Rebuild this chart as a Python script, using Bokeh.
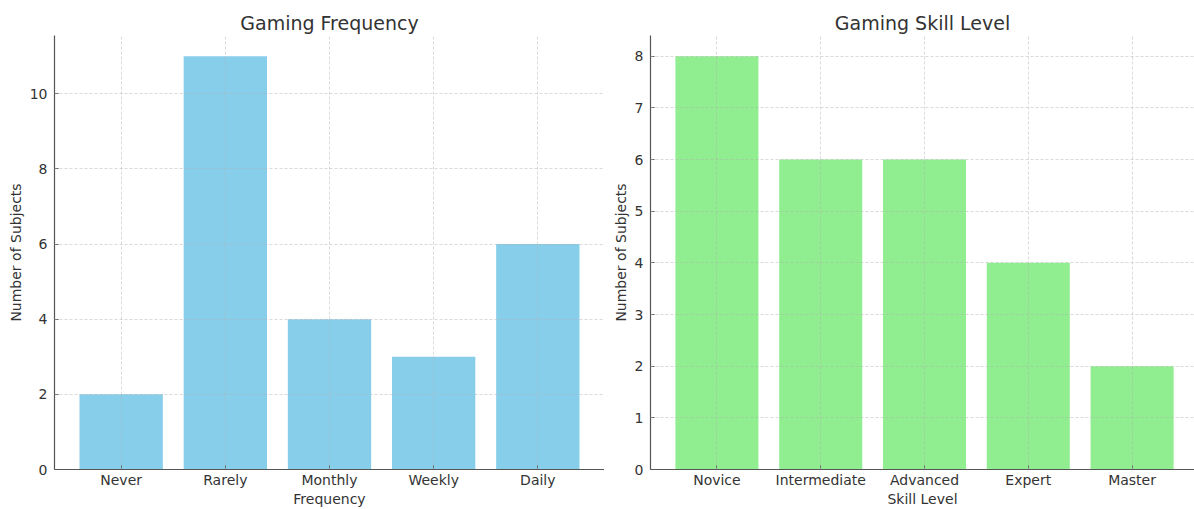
from bokeh.plotting import figure
from bokeh.layouts import row
from bokeh.models import Range1d, FixedTicker, ColumnDataSource
from bokeh.embed import file_html
from bokeh.resources import INLINE

freq_categories = ["Never", "Rarely", "Monthly", "Weekly", "Daily"]
freq_counts = [2, 11, 4, 3, 6]
freq_yticks = [0, 2, 4, 6, 8, 10]

skill_categories = ["Novice", "Intermediate", "Advanced", "Expert", "Master"]
skill_counts = [8, 6, 6, 4, 2]
skill_yticks = [0, 1, 2, 3, 4, 5, 6, 7, 8]

FONT = "DejaVu Sans"
TXT = "#333333"
SPINE = "#555555"
H = 509


def make(title, cats, counts, yticks, color, xlabel, width, left, xend_frac):
    n = len(cats)
    xs = list(range(n))
    ymax = max(counts) * 1.05
    x0 = -0.4 - 0.05 * (n - 1 + 0.8)
    x1 = (n - 1) + 0.4 + 0.05 * (n - 1 + 0.8)
    x1 = x0 + (x1 - x0) * xend_frac
    p = figure(width=width, height=H, output_backend="svg", toolbar_location=None,
               x_range=Range1d(x0, x1), y_range=Range1d(0, ymax),
               min_border_left=left, min_border_right=0, min_border_top=35,
               min_border_bottom=39)
    src = ColumnDataSource(dict(x=xs, top=counts))
    p.vbar(x="x", top="top", width=0.8, source=src, fill_color=color,
           line_color=None)
    p.title.text = title
    p.title.align = "center"
    p.title.text_font = FONT
    p.title.text_font_size = "19px"
    p.title.text_font_style = "normal"
    p.title.text_color = TXT
    p.title.standoff = 3
    p.outline_line_color = None
    p.background_fill_color = "white"
    p.border_fill_color = "white"

    p.xaxis.ticker = FixedTicker(ticks=xs)
    p.xaxis.major_label_overrides = {i: c for i, c in zip(xs, cats)}
    p.yaxis.ticker = FixedTicker(ticks=yticks)
    p.xaxis.axis_label = xlabel
    p.yaxis.axis_label = "Number of Subjects"
    for ax in (p.xaxis, p.yaxis):
        ax.axis_line_color = SPINE
        ax.axis_line_width = 1.2
        ax.major_tick_line_color = SPINE
        ax.major_tick_in = 4
        ax.major_tick_out = 0
        ax.minor_tick_line_color = None
        ax.major_label_text_font = FONT
        ax.major_label_text_font_size = "14px"
        ax.major_label_text_color = TXT
        ax.axis_label_text_font = FONT
        ax.axis_label_text_font_size = "14px"
        ax.axis_label_text_font_style = "normal"
        ax.axis_label_text_color = TXT
        ax.axis_label_standoff = 0
    p.xaxis.major_label_standoff = 2
    p.yaxis.major_label_standoff = 7
    p.yaxis.axis_label_standoff = 3

    for g in (p.xgrid, p.ygrid):
        g.grid_line_color = "#b0b0b0"
        g.grid_line_alpha = 0.6
        g.grid_line_width = 0.8
        g.grid_line_dash = "3 2"
        g.level = "overlay"
    p.xgrid.ticker = FixedTicker(ticks=xs)
    p.ygrid.ticker = FixedTicker(ticks=yticks)
    return p


p1 = make("Gaming Frequency", freq_categories, freq_counts, freq_yticks,
          "#87CEEB", "Frequency", 604, 54, 1.0)
p2 = make("Gaming Skill Level", skill_categories, skill_counts, skill_yticks,
          "#90EE90", "Skill Level", 590, 46, 544 / 548)

layout = row(p1, p2)
open("out.html", "w").write(file_html(layout, INLINE))
